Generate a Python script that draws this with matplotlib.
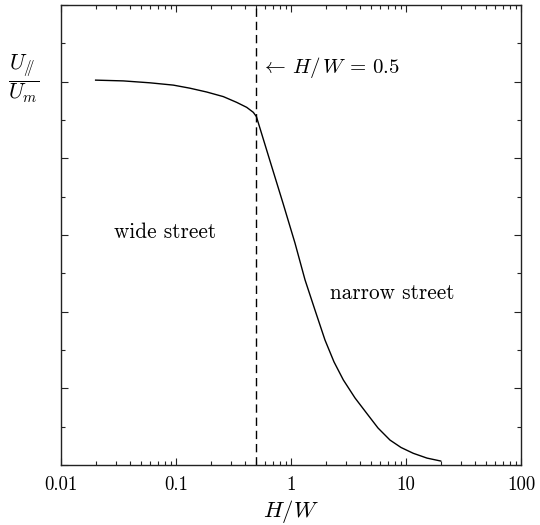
import matplotlib
matplotlib.use("Agg")
import matplotlib.pyplot as plt
from matplotlib.ticker import FixedLocator, FixedFormatter, MultipleLocator, LogLocator, NullFormatter

plt.rcParams['font.family'] = ['cmr10', 'DejaVu Serif']
plt.rcParams['mathtext.fontset'] = 'cm'
plt.rcParams['axes.formatter.use_mathtext'] = True

# data
hw = [0.02, 0.0348, 0.0594, 0.0948, 0.132, 0.185, 0.258, 0.337, 0.412, 0.470, 0.5,
      0.657, 0.852, 1.083, 1.324, 1.617, 1.975, 2.365, 2.85, 3.60, 4.55, 5.71,
      7.26, 9.05, 11.57, 15.23, 20]
u_ratio = [1.004, 1.002, 0.997, 0.991, 0.983, 0.973, 0.961, 0.946, 0.933, 0.920, 0.909,
           0.793, 0.683, 0.579, 0.483, 0.404, 0.326, 0.269, 0.222, 0.175, 0.135, 0.0965,
           0.065, 0.0457, 0.0305, 0.018, 0.0104]
threshold = 0.5
xtick_vals = [0.01, 0.1, 1, 10, 100]
xtick_labels = ["0.01", "0.1", "1", "10", "100"]

fig = plt.figure(figsize=(5.4, 5.25), dpi=100)
ax = fig.add_axes([61/540, 1-465/525, 460/540, 460/525])

ax.plot(hw, u_ratio, color='black', lw=1.0)
ax.axvline(threshold, color='black', lw=1.0, ls=(0, (6, 3.5)))

ax.set_xscale('log')
ax.set_xlim(0.01, 100)
ax.set_ylim(0, 1.2)

ax.xaxis.set_major_locator(FixedLocator(xtick_vals))
ax.xaxis.set_major_formatter(FixedFormatter(xtick_labels))
ax.xaxis.set_minor_locator(LogLocator(base=10, subs=range(2, 10)))
ax.xaxis.set_minor_formatter(NullFormatter())
ax.yaxis.set_major_locator(MultipleLocator(0.2))
ax.yaxis.set_minor_locator(MultipleLocator(0.1))
ax.set_yticklabels([])

ax.tick_params(which='both', direction='in', top=True, right=True, color='#222222', width=0.8)
ax.tick_params(which='major', length=5, labelsize=13.5, pad=8)
ax.tick_params(which='minor', length=3)
for s in ax.spines.values():
    s.set_linewidth(1.0)
    s.set_color('#222222')

ax.set_xlabel(r'$H/W$', fontsize=16.3, labelpad=3)

ax.text(0.545, 1.036, r'$\leftarrow\, H/\,W\,=\,0.5$', fontsize=15, ha='left', va='center')
ax.text(0.080, 0.608, 'wide street', fontsize=15.3, ha='center', va='center')
ax.text(7.55, 0.449, 'narrow street', fontsize=15.3, ha='center', va='center')

fig.text(24/540, 1-79/525, r'$\dfrac{U_{/\!\!/}}{U_m}$', fontsize=15.5, ha='center', va='center')

fig.savefig('out.png', dpi=100)
